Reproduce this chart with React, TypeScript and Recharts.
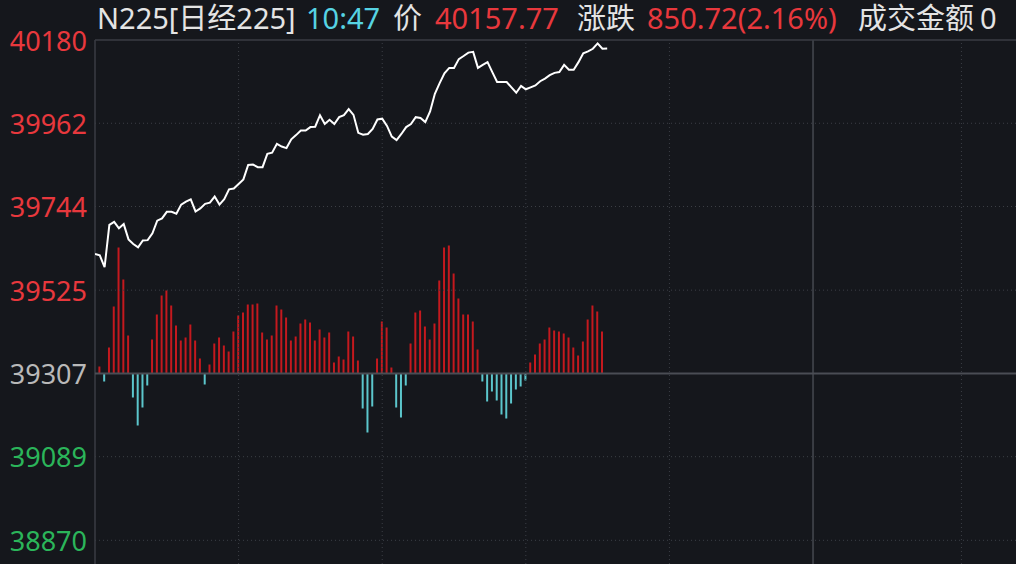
import React from 'react';
import { ComposedChart, Line, Bar, Cell, XAxis, YAxis, ReferenceLine } from 'recharts';

// Minute-by-minute index level (9:00 -> 10:47)
const PRICES: number[] = [
  39620, 39616, 39585, 39696, 39704, 39687, 39698, 39658, 39646, 39637,
  39655, 39656, 39674, 39707, 39713, 39730, 39730, 39725, 39749, 39757,
  39763, 39731, 39739, 39751, 39754, 39770, 39749, 39763, 39789, 39791,
  39803, 39815, 39853, 39854, 39847, 39847, 39882, 39885, 39908, 39901,
  39897, 39920, 39931, 39943, 39943, 39952, 39953, 39983, 39960, 39971,
  39960, 39978, 39983, 39999, 39984, 39937, 39932, 39934, 39947, 39972,
  39974, 39955, 39927, 39918, 39934, 39952, 39960, 39978, 39976, 39965,
  39993, 40039, 40067, 40093, 40107, 40107, 40130, 40138, 40147, 40149,
  40107, 40115, 40122, 40096, 40070, 40070, 40070, 40056, 40042, 40060,
  40051, 40056, 40061, 40072, 40079, 40088, 40094, 40096, 40115, 40102,
  40102, 40122, 40145, 40150, 40157, 40171, 40157, 40157.77,
];

// Per-minute bar indicator (positive = red, negative = cyan)
const BARS: number[] = [
  0, 7, -8, 26, 67, 126, 94, 38, -24, -52,
  -34, -12, 34, 59, 78, 83, 68, 48, 33, 36,
  49, 33, 15, -11, 9, 30, 36, 28, 22, 42,
  58, 61, 69, 69, 70, 41, 34, 38, 68, 64,
  56, 33, 37, 50, 54, 51, 33, 44, 36, 41,
  11, 17, 14, 42, 37, 13, -35, -59, -33, 15,
  52, 46, 6, -34, -44, -12, 30, 61, 63, 47,
  34, 50, 93, 126, 128, 100, 75, 59, 59, 52,
  24, -8, -28, -18, -27, -41, -45, -30, -16, -13,
  -7, 11, 19, 30, 34, 46, 43, 42, 40, 36,
  26, 18, 32, 54, 68, 62, 42, 0,
];

const Y_TICKS: number[] = [40180, 39962, 39744, 39525, 39307, 39089, 38870];
const PREV_CLOSE = 39307;
const X_GRID: number[] = [30, 60, 90, 120, 181];
const SESSION_BREAK = 150;

const HEADER_TEXTS: { text: string; x: number; kind: 'w' | 'c' | 'r' }[] = [
  { text: 'N225[日经225]', x: 97, kind: 'w' },
  { text: '10:47', x: 306, kind: 'c' },
  { text: '价', x: 393, kind: 'w' },
  { text: '40157.77', x: 435, kind: 'r' },
  { text: '涨跌', x: 577, kind: 'w' },
  { text: '850.72(2.16%)', x: 647, kind: 'r' },
  { text: '成交金额', x: 858, kind: 'w' },
  { text: '0', x: 980, kind: 'w' },
];

const BG = '#15171c';
const RED = '#e8383d';
const GREEN = '#2bb55a';
const GRAY = '#b9b9b9';
const WHITE = '#e4e4e4';
const CYAN = '#56d3e3';
const BAR_RED = '#c4191e';
const BAR_CYAN = '#5cc6cc';
const GRID = '#3c3f46';
const BORDER = '#3a3d43';
const FONT = '"Noto Sans", "Noto Sans CJK SC", sans-serif';

const data = PRICES.map((p, i) => ({ m: i, p, v: BARS[i] }));

const PriceTick = (props: any) => {
  const { y, payload } = props;
  const v = payload.value as number;
  const color = v > PREV_CLOSE ? RED : v < PREV_CLOSE ? GREEN : GRAY;
  return (
    <text x={87} y={y} textAnchor="end" dominantBaseline="central" fill={color} fontSize={27} fontFamily={FONT}>
      {v}
    </text>
  );
};

export default function App() {
  return (
    <div style={{ position: 'absolute', left: 0, top: 0, width: 1016, height: 564, background: BG, overflow: 'hidden' }}>
      <ComposedChart width={1016} height={564} data={data} margin={{ top: 40, right: 0, bottom: 0, left: 0 }}>
        <XAxis dataKey="m" type="number" domain={[0, 192.4]} hide allowDataOverflow />
        <YAxis
          yAxisId="p"
          width={95}
          domain={[38808, 40180]}
          ticks={Y_TICKS}
          interval={0}
          axisLine={false}
          tickLine={false}
          tick={<PriceTick />}
          allowDataOverflow
        />
        <YAxis yAxisId="v" hide domain={[-190.5, 333.5]} allowDataOverflow />
        {Y_TICKS.filter((t) => t !== PREV_CLOSE && t !== Y_TICKS[0]).map((t) => (
          <ReferenceLine key={'h' + t} yAxisId="p" y={t} stroke={GRID} strokeDasharray="1 3" />
        ))}
        {X_GRID.map((x) => (
          <ReferenceLine key={'v' + x} yAxisId="p" x={x} stroke={GRID} strokeDasharray="1 3" />
        ))}
        <ReferenceLine yAxisId="p" x={SESSION_BREAK} stroke={BORDER} strokeWidth={2} />
        <ReferenceLine yAxisId="p" x={0} stroke={BORDER} strokeWidth={1.5} />
        <ReferenceLine yAxisId="p" y={Y_TICKS[0]} stroke={BORDER} strokeWidth={1.5} />
        <ReferenceLine yAxisId="p" y={PREV_CLOSE} stroke="#4a4d54" strokeWidth={2} />
        <Bar yAxisId="v" dataKey="v" barSize={2} isAnimationActive={false}>
          {data.map((d, i) => (
            <Cell key={i} fill={d.v >= 0 ? BAR_RED : BAR_CYAN} />
          ))}
        </Bar>
        <Line
          yAxisId="p"
          dataKey="p"
          type="linear"
          stroke="#ffffff"
          strokeWidth={2}
          dot={false}
          isAnimationActive={false}
        />
      </ComposedChart>
      <svg width={1016} height={48} style={{ position: 'absolute', left: 0, top: 0, pointerEvents: 'none' }}>
        {HEADER_TEXTS.map((h) => (
          <text
            key={h.text}
            x={h.x}
            y={29}
            fontSize={29}
            fontFamily={FONT}
            fill={h.kind === 'r' ? RED : h.kind === 'c' ? CYAN : WHITE}
          >
            {h.text}
          </text>
        ))}
      </svg>
    </div>
  );
}
